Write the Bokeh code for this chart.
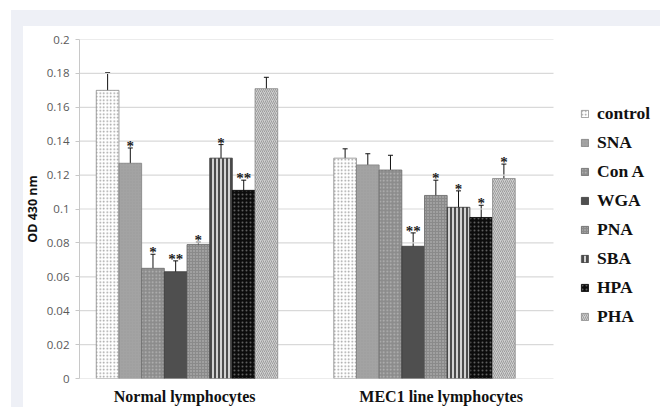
import numpy as np
from bokeh.plotting import figure
from bokeh.models import (ColumnDataSource, Range1d, FixedTicker, Whisker, TeeHead,
                          Legend, LegendItem)
from bokeh.core.properties import value
from bokeh.embed import file_html
from bokeh.resources import INLINE

# ---------------- data ----------------
groups = ["Normal lymphocytes", "MEC1 line lymphocytes"]
series = ["control", "SNA", "Con A", "WGA", "PNA", "SBA", "HPA", "PHA"]
normal = [0.170, 0.127, 0.065, 0.063, 0.079, 0.130, 0.111, 0.171]
normal_err = [0.0105, 0.009, 0.0083, 0.0064, 0.0014, 0.008, 0.006, 0.0067]
mec1 = [0.130, 0.126, 0.123, 0.078, 0.108, 0.101, 0.095, 0.118]
mec1_err = [0.0055, 0.0066, 0.0087, 0.0079, 0.009, 0.0097, 0.0072, 0.0085]
normal_sig = ["", "*", "*", "**", "*", "*", "**", ""]
mec1_sig = ["", "", "", "**", "*", "*", "*", "*"]
y_ticks = [0, 0.02, 0.04, 0.06, 0.08, 0.1, 0.12, 0.14, 0.16, 0.18, 0.2]
y_tick_labels = ["0", "0.02", "0.04", "0.06", "0.08", "0.1", "0.12", "0.14", "0.16", "0.18", "0.2"]
y_title = "OD 430 nm"

# ---------------- styles ----------------
styles = [
    dict(fill_color="#ffffff", hatch_pattern="dot", hatch_color="#9a9a9a", hatch_scale=3.5, hatch_weight=1, line_color="#8a8a8a"),
    dict(fill_color="#a3a3a3", hatch_pattern="dot", hatch_color="#9a9a9a", hatch_scale=3, hatch_weight=1, line_color="#808080"),
    dict(fill_color="#8c8c8c", hatch_pattern="dot", hatch_color="#b8b8b8", hatch_scale=3.5, hatch_weight=1, line_color="#6a6a6a"),
    dict(fill_color="#4f4f4f", hatch_pattern=None, hatch_color="#5a5a5a", hatch_scale=4, hatch_weight=1, line_color="#3a3a3a"),
    dict(fill_color="#8a8a8a", hatch_pattern="dot", hatch_color="#c0c0c0", hatch_scale=3, hatch_weight=1, line_color="#666666"),
    dict(fill_color="#d2d2d2", hatch_pattern="vertical_line", hatch_color="#1e1e1e", hatch_scale=4, hatch_weight=1.5, line_color="#333333"),
    dict(fill_color="#0c0c0c", hatch_pattern="dot", hatch_color="#5e5e5e", hatch_scale=4, hatch_weight=1, line_color="#000000"),
    dict(fill_color="#cfcfcf", hatch_pattern="right_diagonal_line", hatch_color="#9c9c9c", hatch_scale=4, hatch_weight=1, line_color="#8a8a8a"),
]

# ---------------- layout ----------------
W, H = 660, 407
ML, MT, MR, MB = 79, 39, 0, 22
FW = W - ML - MR
PX_X = 237.5             # px per category
X0 = 0.5 - 107.5 / PX_X  # data value at frame left
X1 = X0 + FW / PX_X
GRID_END = X0 + 474 / PX_X   # plot-area right edge (gridlines stop here)
YMAX = 0.2
BAR_W = 0.0955
centers = [i + 0.5 for i in range(len(groups))]

band = "#eef0f6"
bg = (f"linear-gradient({band},{band}) 11px 10px / 12px 400px no-repeat, "
      f"linear-gradient({band},{band}) 11px 10px / 660px 16px no-repeat, white")

p = figure(width=W, height=H, output_backend="svg", toolbar_location=None,
           x_range=Range1d(X0, X1), y_range=Range1d(0, YMAX),
           min_border_left=ML, min_border_top=MT, min_border_right=MR,
           min_border_bottom=MB,
           background_fill_color="white", border_fill_color=None, outline_line_color=None)
p.styles = {"background": bg}

# gridlines limited to the plot area
p.segment(x0=X0, x1=GRID_END, y0=y_ticks, y1=y_ticks, line_color="#d9d9d9", line_width=1.2)

items = []
for i, name in enumerate(series):
    off = (i - (len(series) - 1) / 2) * BAR_W
    xs = [c + off for c in centers]
    vals = [normal[i], mec1[i]]
    errs = [normal_err[i], mec1_err[i]]
    sigs = [normal_sig[i], mec1_sig[i]]
    src = ColumnDataSource(dict(x=xs, top=vals,
                                upper=[v + e for v, e in zip(vals, errs)],
                                lower=[v - e for v, e in zip(vals, errs)],
                                sig=sigs))
    st = styles[i]
    kw = dict(fill_color=st["fill_color"], line_color=st["line_color"], line_width=0.8)
    if st["hatch_pattern"]:
        kw.update(hatch_pattern=st["hatch_pattern"], hatch_color=st["hatch_color"],
                  hatch_scale=st["hatch_scale"], hatch_weight=st["hatch_weight"])
    r = p.vbar(x="x", top="top", bottom=0, width=BAR_W, source=src, **kw)
    items.append(LegendItem(label=name, renderers=[r]))
    p.add_layout(Whisker(source=src, base="x", upper="upper", lower="lower",
                         line_color="#111111", line_width=1,
                         upper_head=TeeHead(size=5, line_color="#111111", line_width=1),
                         lower_head=TeeHead(size=5, line_color="#111111", line_width=1)))
    p.text(x="x", y="upper", text="sig", source=src, y_offset=-2,
           text_align="center", text_baseline="alphabetic",
           text_font=value("Liberation Serif"), text_font_style="bold",
           text_font_size="15px", text_color="#222222")

legend = Legend(items=items, location=(501, 51), orientation="vertical",
                glyph_width=9, glyph_height=9, label_standoff=8, spacing=8,
                label_height=20, padding=0, margin=0,
                border_line_alpha=0, background_fill_alpha=0,
                label_text_font="Liberation Serif", label_text_font_style="bold",
                label_text_font_size="17.5px", label_text_color="#111111")
p.add_layout(legend)

# axes
p.xaxis.ticker = FixedTicker(ticks=[0.49, 1.57])
p.xaxis.major_label_overrides = {0.49: groups[0], 1.57: groups[1]}
p.xaxis.major_tick_line_color = None
p.xaxis.minor_tick_line_color = None
p.xaxis.axis_line_color = None
p.xaxis.major_label_standoff = 3
p.xaxis.major_label_text_font = "Liberation Serif"
p.xaxis.major_label_text_font_style = "bold"
p.xaxis.major_label_text_font_size = "16px"
p.xaxis.major_label_text_color = "#111111"
p.xgrid.grid_line_color = None
p.ygrid.grid_line_color = None

p.yaxis.ticker = FixedTicker(ticks=y_ticks)
p.yaxis.major_label_overrides = {t: l for t, l in zip(y_ticks, y_tick_labels)}
p.yaxis.axis_line_color = "#c8c8c8"
p.yaxis.major_tick_line_color = "#c8c8c8"
p.yaxis.major_tick_out = 4
p.yaxis.major_tick_in = 0
p.yaxis.minor_tick_line_color = None
p.yaxis.major_label_standoff = 6
p.yaxis.major_label_text_font = "Open Sans"
p.yaxis.major_label_text_font_size = "11.5px"
p.yaxis.major_label_text_color = "#595959"
p.yaxis.axis_label = y_title
p.yaxis.axis_label_text_font = "Open Sans"
p.yaxis.axis_label_text_font_style = "bold"
p.yaxis.axis_label_text_font_size = "12.5px"
p.yaxis.axis_label_text_color = "#111111"
p.yaxis.axis_label_standoff = 3

open("out.html", "w").write(file_html(p, INLINE))
